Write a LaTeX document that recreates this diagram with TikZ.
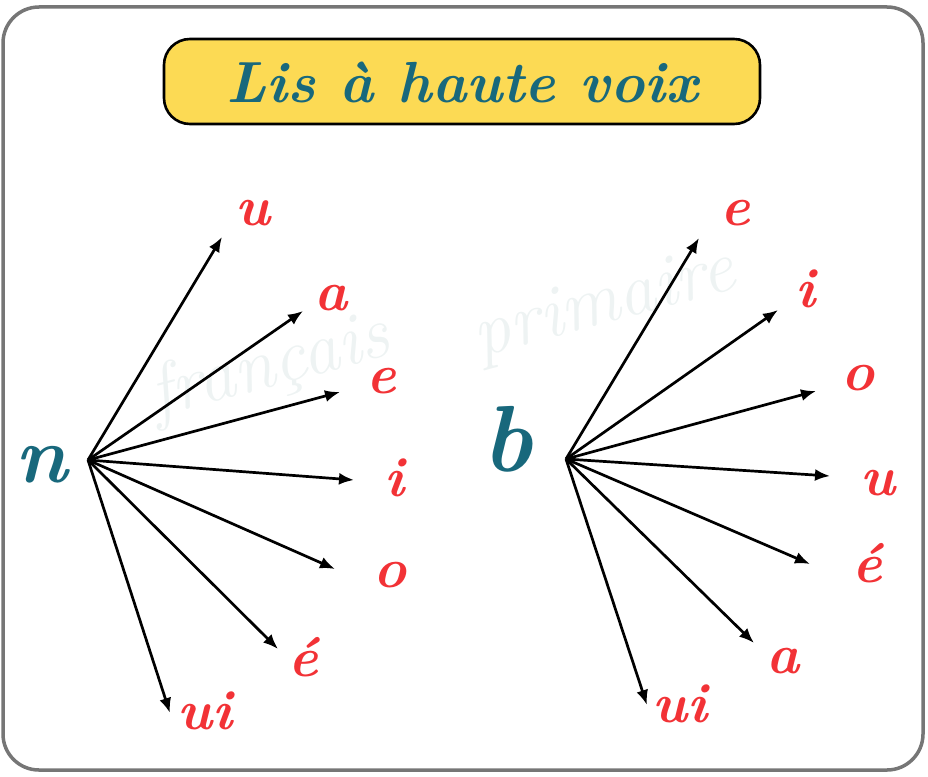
\documentclass[tikz,border=0pt]{standalone}
\usetikzlibrary{arrows.meta}
\definecolor{tealc}{RGB}{24,104,124}
\definecolor{redl}{RGB}{242,50,54}
\definecolor{yel}{RGB}{252,218,84}
\definecolor{framec}{RGB}{118,118,118}
\definecolor{wmark}{RGB}{238,243,243}
\begin{document}
\begin{tikzpicture}[x=1pt,y=-1pt,
  lbl/.style={text=redl,anchor=base,inner sep=0pt,font=\fontsize{56}{56}\selectfont\bfseries\itshape},
  hubtxt/.style={text=tealc,anchor=base,inner sep=0pt},
  wmtxt/.style={text=wmark,rotate=15,inner sep=0pt,font=\fontsize{74}{74}\selectfont\itshape},
  arr/.style={-{Latex[length=15pt,width=12pt]},line width=2.7pt,black},
  framebox/.style={draw=framec,line width=3.5pt,rounded corners=36pt},
  titlebox/.style={draw=black,line width=2.6pt,fill=yel,rounded corners=26pt}
]
\useasboundingbox (0,0) rectangle (928,776);
\draw[framebox] (3,7) rectangle (923,770);
% watermark
\node[wmtxt] (wm1) at (270,368) {français};
\node[wmtxt] (wm2) at (605,306) {primaire};
% title
\draw[titlebox] (164,39) rectangle (760,124);
\node[hubtxt,font=\fontsize{58}{58}\selectfont\bfseries\itshape] (title) at (462,102) {Lis à haute voix};
% left cluster
\node[hubtxt,font=\fontsize{80}{80}\selectfont\bfseries\itshape] (n) at (41,482) {n};
\coordinate (hl) at (88,460);
\node[lbl] (lu) at (253,225) {u};
\node[lbl] (la) at (331,310) {a};
\node[lbl] (le) at (381,393) {e};
\node[lbl] (li) at (394,496) {i};
\node[lbl] (lo) at (390,587) {o};
\node[lbl] (lé) at (303,676) {é};
\node[lbl] (lui) at (205,729) {ui};
\coordinate (tlu) at (222,237);
\coordinate (tla) at (303,311);
\coordinate (tle) at (340,392);
\coordinate (tli) at (354,480);
\coordinate (tlo) at (335,569);
\coordinate (tlé) at (278,649);
\coordinate (tlui) at (170,713);
\foreach \t in {tlu,tla,tle,tli,tlo,tlé,tlui} \draw[arr] (hl) -- (\t);
% right cluster
\node[hubtxt,font=\fontsize{94}{94}\selectfont\bfseries\itshape] (b) at (507,471) {b};
\coordinate (hr) at (566,459);
\node[lbl] (re) at (735,225) {e};
\node[lbl] (ri) at (805,307) {i};
\node[lbl] (ro) at (858,390) {o};
\node[lbl] (ru) at (878,495) {u};
\node[lbl] (ré) at (867,582) {é};
\node[lbl] (ra) at (783,673) {a};
\node[lbl] (rui) at (680,722) {ui};
\coordinate (tre) at (699,238);
\coordinate (tri) at (778,310);
\coordinate (tro) at (816,391);
\coordinate (tru) at (830,476);
\coordinate (tré) at (810,564);
\coordinate (tra) at (754,643);
\coordinate (trui) at (647,705);
\foreach \t in {tre,tri,tro,tru,tré,tra,trui} \draw[arr] (hr) -- (\t);
\end{tikzpicture}
\end{document}
